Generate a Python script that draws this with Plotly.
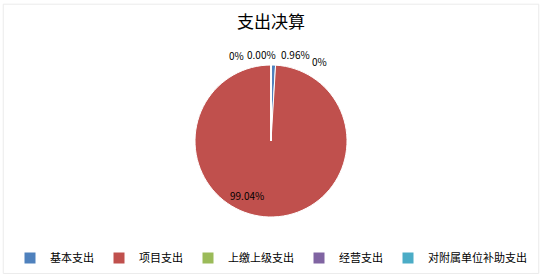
import plotly.graph_objects as go

title = "支出决算"
categories = ["基本支出", "项目支出", "上缴上级支出", "经营支出", "对附属单位补助支出"]
values = [0.96, 99.04, 0, 0, 0]
label_texts = ["0.96%", "99.04%", "0%", "0.00%", "0%"]
colors = ["#4F81BD", "#C0504D", "#9BBB59", "#8064A2", "#4BACC6"]
# label anchor positions (paper fractions)
label_pos = [(0.545, 0.805), (0.455, 0.30), (0.437, 0.80), (0.483, 0.805), (0.59, 0.778)]

W, H = 542, 279
font = "Noto Sans CJK SC, Microsoft YaHei, sans-serif"

fig = go.Figure()
fig.add_trace(go.Pie(
    labels=categories,
    values=values,
    sort=False,
    direction="clockwise",
    rotation=0,
    textinfo="none",
    hoverinfo="label+percent",
    marker=dict(colors=colors, line=dict(color="white", width=1)),
    domain=dict(x=[195 / W, 347 / W], y=[(H - 217) / H, (H - 65) / H]),
    showlegend=True,
))

annotations = [
    dict(text=title, x=0.5, y=(H - 20) / H, xref="paper", yref="paper",
         showarrow=False, font=dict(size=17, color="#000000", family=font),
         xanchor="center", yanchor="middle"),
]
for t, (x, y) in zip(label_texts, label_pos):
    annotations.append(dict(text=t, x=x, y=y, xref="paper", yref="paper",
                            showarrow=False, font=dict(size=10, color="#000000", family=font),
                            xanchor="center", yanchor="middle"))

fig.update_layout(
    width=W, height=H,
    margin=dict(l=0, r=0, t=0, b=0),
    paper_bgcolor="white",
    plot_bgcolor="white",
    font=dict(family=font, color="#000000"),
    annotations=annotations,
    legend=dict(orientation="h", x=0.5, xanchor="center", y=(H - 258) / H, yanchor="middle",
                font=dict(size=11, family=font, color="#000000"),
                itemwidth=30, tracegroupgap=0,
                itemclick=False, traceorder="normal"),
    shapes=[dict(type="rect", xref="paper", yref="paper", x0=0.006, x1=0.994, y0=0.02, y1=0.985,
                 line=dict(color="#EBEBEB", width=1))],
)

fig.write_html("out.html")
